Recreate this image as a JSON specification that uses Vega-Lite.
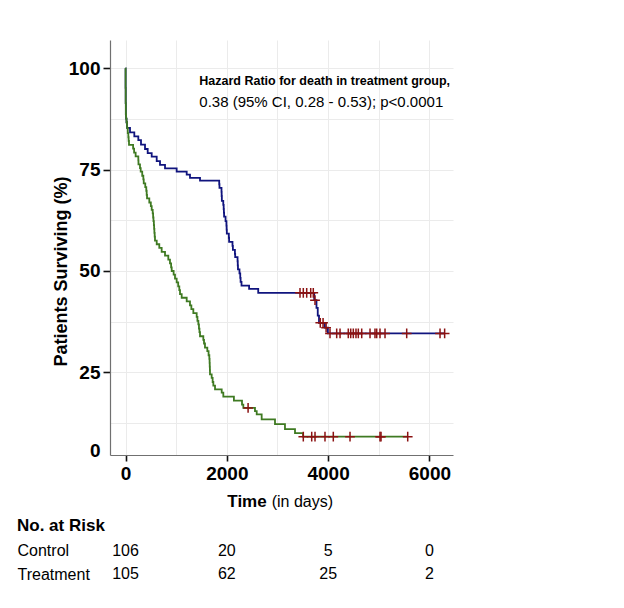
{
  "$schema": "https://vega.github.io/schema/vega-lite/v6.json",
  "background": "white",
  "padding": {"left": 17, "top": 40, "right": 10, "bottom": 5},
  "spacing": 7,
  "resolve": {"scale": {"x": "independent", "y": "independent"}},
  "config": {
    "view": {"stroke": null},
    "font": "Liberation Sans",
    "text": {"color": "#000"}
  },
  "datasets": {
    "curves": [
      {"group": "Treatment", "t": 0, "s": 100}, {"group": "Treatment", "t": 2, "s": 95.2}, {"group": "Treatment", "t": 4, "s": 91.4}, {"group": "Treatment", "t": 7, "s": 88.6}, {"group": "Treatment", "t": 12, "s": 87.6}, {"group": "Treatment", "t": 20, "s": 86.7}, {"group": "Treatment", "t": 30, "s": 85.3}, {"group": "Treatment", "t": 89, "s": 84.2}, {"group": "Treatment", "t": 174, "s": 83.2}, {"group": "Treatment", "t": 253, "s": 82.3}, {"group": "Treatment", "t": 306, "s": 81.2}, {"group": "Treatment", "t": 385, "s": 80.1}, {"group": "Treatment", "t": 438, "s": 79.1}, {"group": "Treatment", "t": 517, "s": 78.2}, {"group": "Treatment", "t": 616, "s": 77.1}, {"group": "Treatment", "t": 681, "s": 76.2}, {"group": "Treatment", "t": 780, "s": 75.3}, {"group": "Treatment", "t": 1010, "s": 74.5}, {"group": "Treatment", "t": 1208, "s": 73.8}, {"group": "Treatment", "t": 1273, "s": 73.0}, {"group": "Treatment", "t": 1471, "s": 72.3}, {"group": "Treatment", "t": 1850, "s": 71.4}, {"group": "Treatment", "t": 1855, "s": 70.5}, {"group": "Treatment", "t": 1895, "s": 69.5}, {"group": "Treatment", "t": 1898, "s": 68.5}, {"group": "Treatment", "t": 1902, "s": 67.3}, {"group": "Treatment", "t": 1930, "s": 66.3}, {"group": "Treatment", "t": 1938, "s": 65.3}, {"group": "Treatment", "t": 1942, "s": 64.4}, {"group": "Treatment", "t": 1946, "s": 63.4}, {"group": "Treatment", "t": 1975, "s": 62.3}, {"group": "Treatment", "t": 1992, "s": 61.2}, {"group": "Treatment", "t": 1996, "s": 60.2}, {"group": "Treatment", "t": 2000, "s": 59.2}, {"group": "Treatment", "t": 2040, "s": 58.2}, {"group": "Treatment", "t": 2045, "s": 57.2}, {"group": "Treatment", "t": 2112, "s": 56.2}, {"group": "Treatment", "t": 2120, "s": 55.2}, {"group": "Treatment", "t": 2160, "s": 54.2}, {"group": "Treatment", "t": 2165, "s": 53.4}, {"group": "Treatment", "t": 2212, "s": 52.4}, {"group": "Treatment", "t": 2216, "s": 51.4}, {"group": "Treatment", "t": 2220, "s": 50.4}, {"group": "Treatment", "t": 2250, "s": 49.4}, {"group": "Treatment", "t": 2265, "s": 48.3}, {"group": "Treatment", "t": 2272, "s": 47.3}, {"group": "Treatment", "t": 2290, "s": 46.4}, {"group": "Treatment", "t": 2440, "s": 45.6}, {"group": "Treatment", "t": 2620, "s": 44.6}, {"group": "Treatment", "t": 3725, "s": 42.8}, {"group": "Treatment", "t": 3770, "s": 40.9}, {"group": "Treatment", "t": 3795, "s": 39.0}, {"group": "Treatment", "t": 3820, "s": 37.2}, {"group": "Treatment", "t": 3935, "s": 36.0}, {"group": "Treatment", "t": 3995, "s": 34.6}, {"group": "Treatment", "t": 6300, "s": 34.6},
      {"group": "Control", "t": 0, "s": 100}, {"group": "Control", "t": 2, "s": 95.2}, {"group": "Control", "t": 4, "s": 91.4}, {"group": "Control", "t": 7, "s": 88.6}, {"group": "Control", "t": 12, "s": 87.6}, {"group": "Control", "t": 20, "s": 86.7}, {"group": "Control", "t": 30, "s": 85.3}, {"group": "Control", "t": 45, "s": 84.0}, {"group": "Control", "t": 56, "s": 83.0}, {"group": "Control", "t": 62, "s": 82.1}, {"group": "Control", "t": 69, "s": 81.1}, {"group": "Control", "t": 150, "s": 80.2}, {"group": "Control", "t": 170, "s": 79.2}, {"group": "Control", "t": 200, "s": 78.3}, {"group": "Control", "t": 253, "s": 77.3}, {"group": "Control", "t": 256, "s": 76.3}, {"group": "Control", "t": 286, "s": 75.4}, {"group": "Control", "t": 300, "s": 74.5}, {"group": "Control", "t": 330, "s": 73.5}, {"group": "Control", "t": 352, "s": 72.6}, {"group": "Control", "t": 360, "s": 71.6}, {"group": "Control", "t": 390, "s": 70.7}, {"group": "Control", "t": 410, "s": 69.8}, {"group": "Control", "t": 418, "s": 68.8}, {"group": "Control", "t": 425, "s": 67.9}, {"group": "Control", "t": 470, "s": 66.9}, {"group": "Control", "t": 500, "s": 66.0}, {"group": "Control", "t": 517, "s": 65.1}, {"group": "Control", "t": 537, "s": 64.2}, {"group": "Control", "t": 545, "s": 63.2}, {"group": "Control", "t": 552, "s": 62.3}, {"group": "Control", "t": 560, "s": 61.3}, {"group": "Control", "t": 565, "s": 60.4}, {"group": "Control", "t": 570, "s": 59.4}, {"group": "Control", "t": 576, "s": 58.5}, {"group": "Control", "t": 582, "s": 57.5}, {"group": "Control", "t": 616, "s": 56.6}, {"group": "Control", "t": 667, "s": 55.7}, {"group": "Control", "t": 714, "s": 54.7}, {"group": "Control", "t": 780, "s": 53.8}, {"group": "Control", "t": 845, "s": 52.8}, {"group": "Control", "t": 878, "s": 51.9}, {"group": "Control", "t": 900, "s": 50.9}, {"group": "Control", "t": 912, "s": 50.0}, {"group": "Control", "t": 950, "s": 49.1}, {"group": "Control", "t": 977, "s": 48.1}, {"group": "Control", "t": 1010, "s": 47.2}, {"group": "Control", "t": 1040, "s": 46.2}, {"group": "Control", "t": 1062, "s": 45.3}, {"group": "Control", "t": 1076, "s": 44.3}, {"group": "Control", "t": 1109, "s": 43.4}, {"group": "Control", "t": 1208, "s": 42.5}, {"group": "Control", "t": 1273, "s": 41.5}, {"group": "Control", "t": 1300, "s": 40.6}, {"group": "Control", "t": 1339, "s": 39.6}, {"group": "Control", "t": 1405, "s": 38.7}, {"group": "Control", "t": 1420, "s": 37.7}, {"group": "Control", "t": 1438, "s": 36.8}, {"group": "Control", "t": 1450, "s": 35.8}, {"group": "Control", "t": 1460, "s": 34.9}, {"group": "Control", "t": 1471, "s": 33.9}, {"group": "Control", "t": 1536, "s": 33.0}, {"group": "Control", "t": 1550, "s": 32.1}, {"group": "Control", "t": 1569, "s": 31.1}, {"group": "Control", "t": 1615, "s": 30.2}, {"group": "Control", "t": 1640, "s": 29.2}, {"group": "Control", "t": 1655, "s": 28.3}, {"group": "Control", "t": 1660, "s": 27.3}, {"group": "Control", "t": 1663, "s": 26.4}, {"group": "Control", "t": 1666, "s": 25.5}, {"group": "Control", "t": 1668, "s": 24.5}, {"group": "Control", "t": 1701, "s": 23.6}, {"group": "Control", "t": 1720, "s": 22.6}, {"group": "Control", "t": 1734, "s": 21.7}, {"group": "Control", "t": 1767, "s": 20.8}, {"group": "Control", "t": 1899, "s": 20.0}, {"group": "Control", "t": 1931, "s": 19.0}, {"group": "Control", "t": 2140, "s": 18.0}, {"group": "Control", "t": 2300, "s": 17.0}, {"group": "Control", "t": 2326, "s": 16.2}, {"group": "Control", "t": 2556, "s": 15.4}, {"group": "Control", "t": 2590, "s": 14.6}, {"group": "Control", "t": 2688, "s": 13.4}, {"group": "Control", "t": 2951, "s": 12.2}, {"group": "Control", "t": 3148, "s": 11.0}, {"group": "Control", "t": 3346, "s": 10.0}, {"group": "Control", "t": 3505, "s": 9.1}, {"group": "Control", "t": 5571, "s": 9.1}
    ],
    "censors": [
      {"group": "Treatment", "t": 3445, "s": 44.6}, {"group": "Treatment", "t": 3510, "s": 44.6}, {"group": "Treatment", "t": 3577, "s": 44.6}, {"group": "Treatment", "t": 3656, "s": 44.6}, {"group": "Treatment", "t": 3707, "s": 44.6}, {"group": "Treatment", "t": 3741, "s": 42.8}, {"group": "Treatment", "t": 3845, "s": 37.2}, {"group": "Treatment", "t": 3900, "s": 37.2}, {"group": "Treatment", "t": 3960, "s": 36.0}, {"group": "Treatment", "t": 4037, "s": 34.6}, {"group": "Treatment", "t": 4169, "s": 34.6}, {"group": "Treatment", "t": 4235, "s": 34.6}, {"group": "Treatment", "t": 4398, "s": 34.6}, {"group": "Treatment", "t": 4446, "s": 34.6}, {"group": "Treatment", "t": 4497, "s": 34.6}, {"group": "Treatment", "t": 4550, "s": 34.6}, {"group": "Treatment", "t": 4596, "s": 34.6}, {"group": "Treatment", "t": 4663, "s": 34.6}, {"group": "Treatment", "t": 4827, "s": 34.6}, {"group": "Treatment", "t": 4925, "s": 34.6}, {"group": "Treatment", "t": 4959, "s": 34.6}, {"group": "Treatment", "t": 5024, "s": 34.6}, {"group": "Treatment", "t": 5123, "s": 34.6}, {"group": "Treatment", "t": 5551, "s": 34.6}, {"group": "Treatment", "t": 6209, "s": 34.6}, {"group": "Treatment", "t": 6300, "s": 34.6},
      {"group": "Control", "t": 2420, "s": 16.2}, {"group": "Control", "t": 3510, "s": 9.1}, {"group": "Control", "t": 3676, "s": 9.1}, {"group": "Control", "t": 3741, "s": 9.1}, {"group": "Control", "t": 3938, "s": 9.1}, {"group": "Control", "t": 4102, "s": 9.1}, {"group": "Control", "t": 4432, "s": 9.1}, {"group": "Control", "t": 5024, "s": 9.1}, {"group": "Control", "t": 5044, "s": 9.1}, {"group": "Control", "t": 5571, "s": 9.1}
    ],
    "risk": [
      {"group": "Control", "t": 0, "n": 106}, {"group": "Control", "t": 2000, "n": 20}, {"group": "Control", "t": 4000, "n": 5}, {"group": "Control", "t": 6000, "n": 0},
      {"group": "Treatment", "t": 0, "n": 105}, {"group": "Treatment", "t": 2000, "n": 62}, {"group": "Treatment", "t": 4000, "n": 25}, {"group": "Treatment", "t": 6000, "n": 2}
    ]
  },
  "vconcat": [
    {
      "width": 343,
      "height": 415,
      "layer": [
        {
          "data": {"name": "curves"},
          "mark": {"type": "line", "interpolate": "step-after", "strokeWidth": 1.8},
          "encoding": {
            "x": {
              "field": "t", "type": "quantitative",
              "scale": {"domain": [-306, 6465], "nice": false, "zero": false},
              "axis": {
                "values": [0, 1000, 2000, 3000, 4000, 5000, 6000],
                "labelExpr": "datum.value % 2000 === 0 ? format(datum.value, 'd') : ''",
                "tickOpacity": {"condition": {"test": "datum.value % 2000 === 0", "value": 1}, "value": 0},
                "title": null,
                "grid": true, "gridColor": "#ebebeb", "gridWidth": 1,
                "domainColor": "#707070", "domainWidth": 1.2,
                "tickColor": "#111", "tickSize": 6, "tickWidth": 1.6,
                "labelFontSize": 19, "labelFontWeight": "bold", "labelColor": "#000",
                "labelPadding": 3, "labelFlush": false, "labelOverlap": false
              }
            },
            "y": {
              "field": "s", "type": "quantitative",
              "scale": {"domain": [4.59, 107], "nice": false, "zero": false},
              "axis": {
                "values": [5.7, 12.5, 25, 37.5, 50, 62.5, 75, 87.5, 100],
                "labelExpr": "datum.value < 10 ? '0' : (datum.value % 25 === 0 ? format(datum.value, 'd') : '')",
                "tickOpacity": {"condition": {"test": "datum.value > 10 && datum.value % 25 === 0", "value": 1}, "value": 0},
                "gridOpacity": {"condition": {"test": "datum.value < 10", "value": 0}, "value": 1},
                "grid": true, "gridColor": "#ebebeb", "gridWidth": 1,
                "domainColor": "#707070", "domainWidth": 1.2,
                "tickColor": "#111", "tickSize": 7, "tickWidth": 1.6,
                "labelFontSize": 19, "labelFontWeight": "bold", "labelColor": "#000",
                "labelPadding": 3, "labelOverlap": false,
                "title": "Patients Surviving (%)",
                "titleFontSize": 18, "titleFontWeight": "bold", "titleColor": "#000",
                "titleX": -44, "titleY": 231, "titleAlign": "center", "titleBaseline": "alphabetic", "titleAngle": -90
              }
            },
            "color": {
              "field": "group", "type": "nominal",
              "scale": {"domain": ["Control", "Treatment"], "range": ["#3f7a22", "#10147e"]},
              "legend": null
            }
          }
        },
        {
          "data": {"name": "censors"},
          "mark": {"type": "point", "shape": "M-1,0L1,0M0,-1L0,1", "filled": false, "stroke": "#8b1212", "strokeWidth": 1.5, "size": 95, "opacity": 1},
          "encoding": {
            "x": {"field": "t", "type": "quantitative"},
            "y": {"field": "s", "type": "quantitative"}
          }
        },
        {
          "data": {"values": [{}]},
          "mark": {"type": "text", "align": "left", "baseline": "alphabetic", "fontSize": 12.5, "fontWeight": "bold"},
          "encoding": {"x": {"datum": 1457}, "y": {"datum": 95.85}, "text": {"value": "Hazard Ratio for death in treatment group,"}}
        },
        {
          "data": {"values": [{}]},
          "mark": {"type": "text", "align": "left", "baseline": "alphabetic", "fontSize": 15, "fontWeight": "normal"},
          "encoding": {"x": {"datum": 1457}, "y": {"datum": 90.5}, "text": {"value": "0.38 (95% CI, 0.28 - 0.53); p<0.0001"}}
        },
        {
          "data": {"values": [{}]},
          "mark": {"type": "text", "align": "right", "baseline": "alphabetic", "fontSize": 17, "fontWeight": "bold"},
          "encoding": {"x": {"datum": 2787}, "y": {"datum": -8.2}, "text": {"value": "Time"}}
        },
        {
          "data": {"values": [{}]},
          "mark": {"type": "text", "align": "left", "baseline": "alphabetic", "fontSize": 16, "fontWeight": "normal"},
          "encoding": {"x": {"datum": 2886}, "y": {"datum": -8.2}, "text": {"value": "(in days)"}}
        }
      ]
    },
    {
      "width": 343,
      "height": 47.2,
      "data": {"name": "risk"},
      "title": {"text": "No. at Risk", "anchor": "start", "frame": "bounds", "fontSize": 17, "fontWeight": "bold", "color": "#000", "offset": 4},
      "mark": {"type": "text", "fontSize": 16, "baseline": "middle", "align": "center"},
      "encoding": {
        "x": {"field": "t", "type": "quantitative", "scale": {"domain": [-306, 6465], "nice": false, "zero": false}, "axis": null},
        "y": {
          "field": "group", "type": "nominal", "sort": ["Control", "Treatment"],
          "scale": {"type": "point", "padding": 0.5},
          "axis": {"title": null, "domain": false, "ticks": false, "tickSize": 0, "grid": false, "labelAlign": "left", "labelPadding": 93, "labelFontSize": 16, "labelFontWeight": "normal", "labelColor": "#000"}
        },
        "text": {"field": "n", "type": "quantitative"}
      }
    }
  ]
}
